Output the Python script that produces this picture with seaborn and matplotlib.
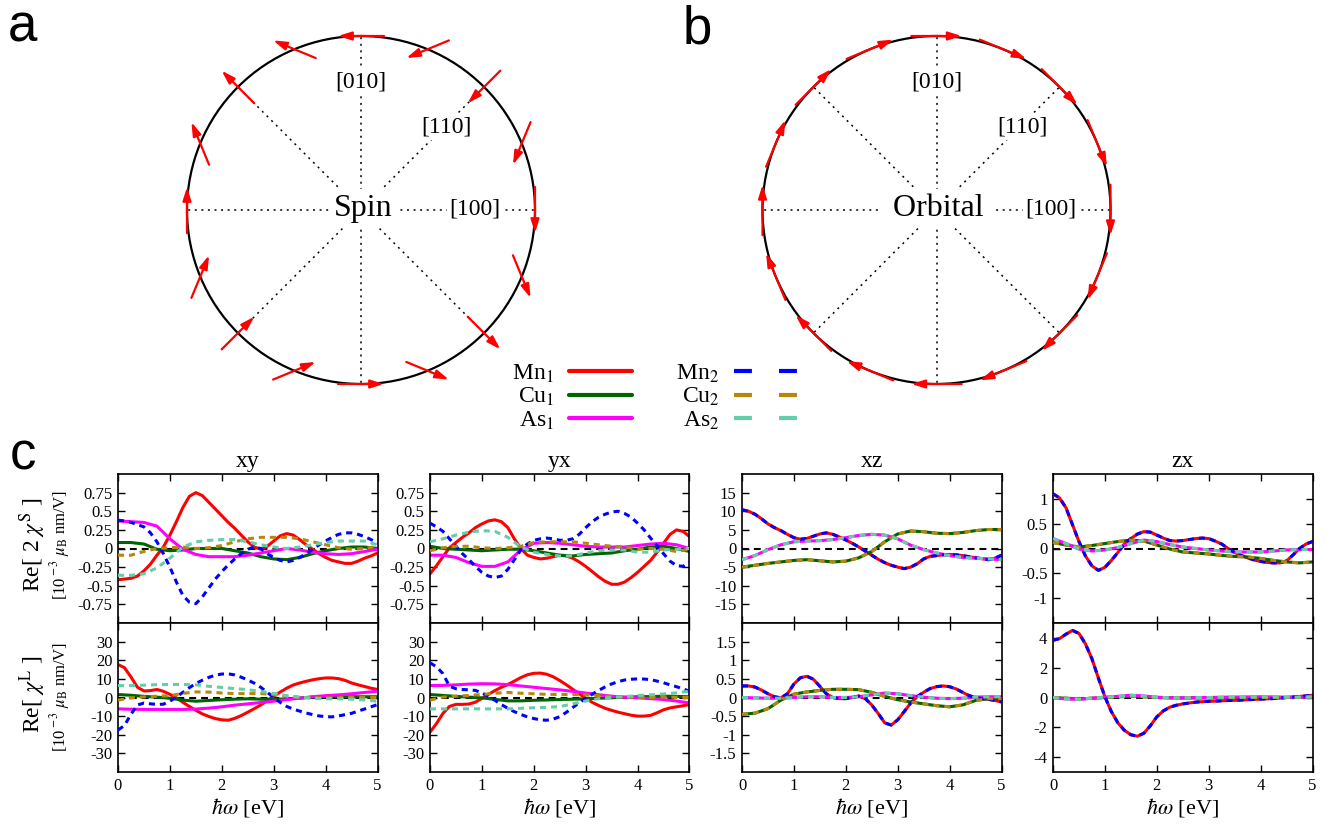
import numpy as np
import matplotlib
matplotlib.use("Agg")
import matplotlib.pyplot as plt
import seaborn as sns
from matplotlib.lines import Line2D
from matplotlib.patches import Circle
from matplotlib.ticker import FuncFormatter

# ---------------- data ----------------
E = [0.0, 0.25, 0.5, 0.75, 1.0, 1.25, 1.5, 1.75, 2.0, 2.25, 2.5,
     2.75, 3.0, 3.25, 3.5, 3.75, 4.0, 4.25, 4.5, 4.75, 5.0]
E_fine = [0.0, 0.125, 0.25, 0.375, 0.5, 0.625, 0.75, 0.875, 1.0, 1.125, 1.25,
          1.375, 1.5, 1.625, 1.75, 1.875, 2.0, 2.125, 2.25, 2.375, 2.5,
          2.625, 2.75, 2.875, 3.0, 3.125, 3.25, 3.375, 3.5, 3.625, 3.75,
          3.875, 4.0, 4.125, 4.25, 4.375, 4.5, 4.625, 4.75, 4.875, 5.0]

# xy, spin
xyS_Mn1 = [-0.42, -0.41, -0.40, -0.37, -0.3, -0.21, -0.09, 0.02, 0.18, 0.36, 0.55, 0.7, 0.75, 0.71, 0.62, 0.53,
           0.44, 0.35, 0.27, 0.18, 0.09, 0.02, -0.01, 0.03, 0.1, 0.17, 0.2, 0.18, 0.12, 0.05, -0.01, -0.07, -0.12,
           -0.16, -0.18, -0.2, -0.2, -0.17, -0.13, -0.1, -0.06]
xyS_Cu1 = [0.08, 0.08, 0.06, -0.01, -0.03, -0.02, 0.0, 0.0, 0.0, -0.03, -0.06, -0.11, -0.14, -0.15, -0.12, -0.07, -0.03, 0.0, 0.02, 0.02, 0.0]
xyS_As1 = [0.37, 0.36, 0.35, 0.3, 0.13, -0.01, -0.08, -0.11, -0.11, -0.11, -0.09, -0.06, -0.03, 0.0, -0.02, -0.05, -0.07, -0.08, -0.07, -0.04, -0.01]
xyS_Mn2 = [0.38, 0.37, 0.35, 0.32, 0.29, 0.21, 0.09, -0.07, -0.25, -0.45, -0.63, -0.72, -0.74, -0.65, -0.53, -0.41,
           -0.31, -0.22, -0.14, -0.07, -0.01, 0.02, 0.0, -0.07, -0.12, -0.16, -0.18, -0.16, -0.12, -0.07, -0.01,
           0.05, 0.1, 0.15, 0.19, 0.21, 0.21, 0.19, 0.16, 0.12, 0.07]
xyS_Cu2 = [-0.09, -0.09, -0.04, 0.0, 0.01, 0.02, 0.0, 0.01, 0.04, 0.09, 0.13, 0.15, 0.15, 0.15, 0.13, 0.09, 0.05, 0.01, -0.01, 0.0, 0.03]
xyS_As2 = [-0.36, -0.36, -0.34, -0.26, -0.13, 0.02, 0.09, 0.11, 0.12, 0.12, 0.09, 0.05, 0.02, 0.0, 0.02, 0.05, 0.08, 0.1, 0.1, 0.1, 0.05]

# xy, orbital
xyL_Mn1 = [17.7, 16, 11, 5.5, 3.5, 3.7, 4.3, 3.3, 1.7, -0.2, -2.6, -4.8, -6.9, -8.8, -10.2, -11.3, -12, -12.2,
           -11.2, -9.7, -7.9, -6, -4, -1.7, 0.7, 2.9, 5, 6.7, 7.8, 8.7, 9.5, 10.1, 10.5, 10.5, 10.1, 9.2, 7.8,
           6.8, 5.9, 5.0, 4.3]
xyL_Cu1 = [1.6, 1.2, 0.6, 0.2, -0.4, -1.4, -2.0, -1.6, -1.2, -0.9, -0.7, -0.9, -1.0, -0.7, -0.3, 0.2, 0.4, 0.4, 0.4, 0.4, 0.4]
xyL_As1 = [-6.1, -6.3, -6.4, -6.4, -6.4, -6.4, -6.2, -5.7, -5.0, -4.1, -3.4, -2.7, -2.0, -1.1, -0.4, 0.4, 1.0, 1.4, 2.0, 2.7, 3.4]
xyL_Mn2 = [-17.5, -15, -9, -4, -3.0, -3.4, -3.7, -3.6, -2, 0.3, 2.8, 5.3, 7.5, 9.3, 10.8, 12, 12.6, 12.7, 12.1,
           10.9, 9.4, 7.7, 5.5, 2.8, 0, -2.6, -4.8, -6.2, -7.3, -8.3, -9.2, -9.9, -10.3, -10.4, -9.9, -9.2, -8.5,
           -7.3, -6.2, -5.0, -3.8]
xyL_Cu2 = [-1.4, -0.2, 0.3, 0.7, 1.0, 2.2, 3.0, 2.9, 2.4, 2.1, 2.1, 2.1, 1.6, 0.6, 0.1, -0.2, -0.2, -0.1, 0.0, 0.0, 0.0]
xyL_As2 = [6.4, 6.4, 6.6, 6.9, 7.0, 7.0, 6.8, 6.0, 5.4, 4.8, 4.2, 3.3, 2.2, 1.0, 0.2, -0.4, -0.7, -0.7, -0.9, -1.3, -2.0]

# yx, spin
yxS_Mn1 = [-0.34, -0.23, -0.11, 0.01, 0.08, 0.15, 0.21, 0.28, 0.33, 0.37, 0.385, 0.36, 0.28, 0.13, 0.0, -0.09,
           -0.12, -0.14, -0.13, -0.11, -0.09, -0.1, -0.13, -0.18, -0.24, -0.31, -0.38, -0.44, -0.48, -0.48, -0.45,
           -0.39, -0.32, -0.24, -0.16, -0.05, 0.07, 0.19, 0.25, 0.23, 0.16]
yxS_Cu1 = [0.03, 0.0, -0.01, -0.02, -0.03, -0.02, -0.01, -0.01, -0.03, -0.06, -0.09, -0.1, -0.08, -0.07, -0.06, -0.03, -0.01, 0.02, 0.03, 0.0, -0.04]
yxS_As1 = [-0.09, -0.09, -0.12, -0.19, -0.24, -0.24, -0.18, -0.02, 0.07, 0.08, 0.07, 0.05, 0.03, 0.02, 0.02, 0.02, 0.04, 0.06, 0.07, 0.05, 0.0]
yxS_Mn2 = [0.34, 0.29, 0.23, 0.13, 0.03, -0.07, -0.15, -0.24, -0.32, -0.37, -0.39, -0.37, -0.28, -0.15, -0.02,
           0.06, 0.11, 0.13, 0.14, 0.13, 0.11, 0.11, 0.13, 0.19, 0.28, 0.36, 0.42, 0.46, 0.49, 0.5, 0.47, 0.42,
           0.34, 0.25, 0.14, 0.04, -0.07, -0.17, -0.23, -0.24, -0.18]
yxS_Cu2 = [-0.03, 0.01, 0.03, 0.03, 0.01, 0.0, 0.01, 0.03, 0.08, 0.09, 0.09, 0.09, 0.07, 0.05, 0.03, 0.02, -0.01, 0.0, -0.01, -0.04, -0.01]
yxS_As2 = [0.09, 0.13, 0.18, 0.22, 0.24, 0.23, 0.15, 0.02, -0.05, -0.08, -0.1, -0.1, -0.06, -0.03, -0.02, -0.02, -0.05, -0.05, -0.02, -0.01, 0.0]

# yx, orbital
yxL_Mn1 = [-18.6, -14, -8.5, -4.8, -3.7, -3.7, -3.5, -2.5, -0.5, 1.7, 3.7, 5.5, 7.0, 8.8, 10.7, 12.2, 13.0, 13.1,
           12.5, 11.1, 9.1, 6.9, 4.4, 2.0, -0.4, -2.6, -4.3, -5.8, -6.9, -7.9, -8.7, -9.5, -10.0, -10.0, -9.6,
           -8.2, -6.6, -5.6, -5.0, -4.4, -3.8]
yxL_Cu1 = [1.6, 1.1, 0.6, 0.2, -0.2, -1.0, -1.8, -1.8, -1.5, -1.3, -1.1, -0.9, -0.7, -0.4, -0.1, 0.1, 0.4, 0.5, 0.7, 0.6, 0.4]
yxL_As1 = [6.4, 6.5, 6.8, 7.2, 7.4, 7.3, 6.9, 6.2, 5.5, 4.8, 4.1, 3.3, 2.4, 1.5, 0.7, 0.2, -0.2, -0.6, -1.1, -1.9, -2.9]
yxL_Mn2 = [18.6, 16.5, 12.8, 6, 4.7, 4.3, 4.1, 3.8, 2.5, 0.6, -1.5, -3.8, -5.8, -7.6, -9.1, -10.4, -11.3, -12.0,
           -12.2, -11.6, -10.3, -8.0, -5.4, -2.8, -0.4, 1.8, 3.8, 5.7, 7.3, 8.5, 9.4, 9.8, 10.0, 9.9, 9.6, 8.8,
           7.9, 6.8, 5.8, 4.6, 3.4]
yxL_Cu2 = [-1.4, 0.2, 0.7, 1.1, 1.6, 2.3, 2.7, 2.3, 2.0, 1.7, 1.6, 1.6, 1.4, 1.0, 0.6, 0.3, 0.1, 0.0, 0.2, 0.1, 0.0]
yxL_As2 = [-6.1, -6.1, -6.1, -6.1, -6.1, -6.1, -6.1, -5.8, -5.5, -5.3, -4.9, -3.4, -1.9, -0.6, 0.0, 0.4, 1.1, 1.4, 1.9, 2.5, 3.4]

# xz (sublattice 1 and 2 coincide)
xzS_Mn = [10.4, 10.0, 9.2, 8.0, 6.6, 5.6, 4.8, 3.8, 2.9, 2.5, 2.7, 3.3, 3.9, 4.2, 3.8, 3.1, 2.3, 1.4, 0.4, -0.7,
          -1.8, -2.9, -3.8, -4.5, -5.0, -5.4, -5.0, -4.1, -2.8, -2.1, -1.9, -1.7, -1.6, -1.7, -1.9, -2.2, -2.5,
          -2.75, -3.0, -2.6, -1.8]
xzS_Cu = [-5.0, -4.5, -4.0, -3.6, -3.2, -3.0, -3.3, -3.6, -3.4, -2.5, -0.8, 1.8, 3.9, 4.7, 4.5, 4.1, 4.0, 4.3, 4.8, 5.1, 5.1]
xzS_As = [-3.0, -1.9, -0.3, 1.0, 1.8, 2.0, 2.1, 2.4, 2.9, 3.5, 3.8, 3.6, 2.6, 0.9, -0.3, -1.2, -1.9, -2.4, -2.6, -2.8, -3.0]
xzL_Mn = [0.31, 0.31, 0.28, 0.2, 0.1, 0.02, -0.01, 0.1, 0.36, 0.53, 0.57, 0.49, 0.3, 0.1, 0.0, -0.03, -0.03, 0.0,
          0.04, -0.03, -0.2, -0.43, -0.68, -0.74, -0.6, -0.38, -0.15, 0.02, 0.14, 0.24, 0.29, 0.31, 0.29, 0.23,
          0.14, 0.05, 0.0, -0.03, -0.05, -0.08, -0.12]
xzL_Cu = [-0.45, -0.42, -0.3, -0.07, 0.09, 0.15, 0.19, 0.22, 0.22, 0.21, 0.14, 0.03, -0.06, -0.12, -0.17, -0.22, -0.25, -0.2, -0.08, -0.03, -0.03]
xzL_As = [0.0, -0.01, -0.02, -0.02, 0.0, 0.02, 0.02, 0.0, 0.0, 0.02, 0.07, 0.12, 0.1, 0.05, 0.01, -0.02, -0.03, -0.02, 0.01, 0.02, 0.02]

# zx (sublattice 1 and 2 coincide)
zxS_Mn = [1.1, 1.02, 0.82, 0.48, 0.14, -0.15, -0.35, -0.44, -0.38, -0.24, -0.08, 0.09, 0.2, 0.29, 0.34, 0.33,
          0.27, 0.21, 0.16, 0.15, 0.16, 0.18, 0.2, 0.21, 0.2, 0.15, 0.09, 0.0, -0.08, -0.14, -0.19, -0.23, -0.26,
          -0.28, -0.29, -0.29, -0.25, -0.13, 0.0, 0.09, 0.14]
zxS_Cu = [0.12, 0.07, 0.03, 0.06, 0.1, 0.14, 0.17, 0.15, 0.07, -0.01, -0.07, -0.09, -0.11, -0.14, -0.16, -0.17, -0.2, -0.24, -0.27, -0.29, -0.27]
zxS_As = [0.2, 0.1, -0.01, -0.05, -0.03, 0.02, 0.1, 0.17, 0.14, 0.08, 0.03, 0.0, -0.03, -0.05, -0.07, -0.07, -0.07, -0.05, -0.03, -0.02, -0.02]
zxL_Mn = [3.84, 3.95, 4.25, 4.5, 4.3, 3.6, 2.6, 1.3, 0.05, -0.95, -1.7, -2.2, -2.5, -2.6, -2.4, -1.9, -1.3, -0.9,
          -0.65, -0.52, -0.43, -0.37, -0.31, -0.28, -0.26, -0.24, -0.22, -0.2, -0.19, -0.17, -0.15, -0.13, -0.11,
          -0.09, -0.07, -0.04, 0.0, 0.03, 0.07, 0.11, 0.15]
zxL_Cu = [0.0, -0.05, -0.1, -0.05, 0.0, 0.05, 0.08, 0.05, 0.0, -0.02, -0.03, -0.03, -0.02, -0.02, -0.01, 0.0, 0.0, 0.0, 0.0, 0.02, 0.05]
zxL_As = [0.0, -0.1, -0.12, -0.05, 0.02, 0.08, 0.15, 0.1, 0.02, -0.02, -0.03, 0.0, 0.0, 0.02, 0.03, 0.04, 0.05, 0.04, 0.02, 0.02, 0.03]

species = ["Mn$_1$", "Cu$_1$", "As$_1$", "Mn$_2$", "Cu$_2$", "As$_2$"]
colors = ["#ff0000", "#006400", "#ff00ff", "#0000ff", "#b8860b", "#66cdaa"]

panel_titles = ["xy", "yx", "xz", "zx"]
spin_rows = [
    [xyS_Mn1, xyS_Cu1, xyS_As1, xyS_Mn2, xyS_Cu2, xyS_As2],
    [yxS_Mn1, yxS_Cu1, yxS_As1, yxS_Mn2, yxS_Cu2, yxS_As2],
    [xzS_Mn, xzS_Cu, xzS_As, xzS_Mn, xzS_Cu, xzS_As],
    [zxS_Mn, zxS_Cu, zxS_As, zxS_Mn, zxS_Cu, zxS_As],
]
orb_rows = [
    [xyL_Mn1, xyL_Cu1, xyL_As1, xyL_Mn2, xyL_Cu2, xyL_As2],
    [yxL_Mn1, yxL_Cu1, yxL_As1, yxL_Mn2, yxL_Cu2, yxL_As2],
    [xzL_Mn, xzL_Cu, xzL_As, xzL_Mn, xzL_Cu, xzL_As],
    [zxL_Mn, zxL_Cu, zxL_As, zxL_Mn, zxL_Cu, zxL_As],
]
spin_ylims = [(-1, 1), (-1, 1), (-20, 20), (-1.5, 1.5)]
orb_ylims = [(-40, 40), (-40, 40), (-2, 2), (-5, 5)]
spin_yticks = [[-0.75, -0.5, -0.25, 0, 0.25, 0.5, 0.75],
               [-0.75, -0.5, -0.25, 0, 0.25, 0.5, 0.75],
               [-15, -10, -5, 0, 5, 10, 15],
               [-1, -0.5, 0, 0.5, 1]]
orb_yticks = [[-30, -20, -10, 0, 10, 20, 30],
              [-30, -20, -10, 0, 10, 20, 30],
              [-1.5, -1, -0.5, 0, 0.5, 1, 1.5],
              [-4, -2, 0, 2, 4]]
x_ticks = [0, 1, 2, 3, 4, 5]

# texture on the circles
site_deg = [0, 22.5, 45, 67.5, 90, 112.5, 135, 157.5, 180, 202.5, 225, 247.5, 270, 292.5, 315, 337.5]
spin_dir_deg = [270, 247.5, 225, 202.5, 180, 157.5, 135, 112.5, 90, 67.5, 45, 22.5, 0, 337.5, 315, 292.5]
orb_dir_deg = [270, 292.5, 315, 337.5, 0, 22.5, 45, 67.5, 90, 112.5, 135, 157.5, 180, 202.5, 225, 247.5]
ray_deg = [0, 45, 90, 135, 180, 225, 270, 315]
dir_labels = ["[010]", "[110]", "[100]"]

# ---------------- style ----------------
sns.set_theme(style="ticks")
plt.rcParams["font.family"] = ["Liberation Serif", "DejaVu Serif"]
plt.rcParams["mathtext.fontset"] = "stix"
plt.rcParams["axes.unicode_minus"] = False
plt.rcParams["text.color"] = "black"
plt.rcParams["axes.labelcolor"] = "black"
plt.rcParams["xtick.color"] = "black"
plt.rcParams["ytick.color"] = "black"

W, H = 1335, 825
fig = plt.figure(figsize=(W / 100, H / 100), dpi=100)


def fx(p):
    return p / W


def fy(p):
    return 1 - p / H


# ---------------- circle panels ----------------
R_PX = 174.0
BOX = 215.0


def circle_panel(cx, cy, center_label, dirs, arrow_len):
    ax = fig.add_axes([fx(cx - BOX), fy(cy + BOX), 2 * BOX / W, 2 * BOX / H])
    lim = BOX / R_PX
    ax.set_xlim(-lim, lim)
    ax.set_ylim(-lim, lim)
    ax.axis("off")
    ax.add_patch(Circle((0, 0), 1.0, fill=False, ec="black", lw=1.6, zorder=2))
    for a in np.deg2rad(ray_deg):
        ax.plot([0, np.cos(a)], [0, np.sin(a)], color="black", lw=1.1,
                ls=(0, (1.3, 3.0)), zorder=1)
    box = dict(boxstyle="square,pad=0.1", fc="white", ec="none")
    lab_r = [0.735, 0.686, 0.655]
    lab_a = np.deg2rad([90, 44, 0.5])
    for r, a, t in zip(lab_r, lab_a, dir_labels):
        ax.text(r * np.cos(a), r * np.sin(a), t, fontsize=17, ha="center",
                va="center", bbox=box, zorder=3, color="black")
    ax.text(0.01, 0.01, center_label, fontsize=23, ha="center", va="center", color="black",
            bbox=dict(boxstyle="square,pad=0.15", fc="white", ec="none"), zorder=3)
    for th, ph in zip(np.deg2rad(site_deg), np.deg2rad(dirs)):
        px, py = np.cos(th), np.sin(th)
        dx, dy = np.cos(ph) * arrow_len / 2, np.sin(ph) * arrow_len / 2
        ax.annotate("", xy=(px + dx, py + dy), xytext=(px - dx, py - dy),
                    arrowprops=dict(arrowstyle="-|>,head_length=0.8,head_width=0.25",
                                    color="red", lw=1.6, shrinkA=0, shrinkB=0,
                                    mutation_scale=10), zorder=4)
    return ax


circle_panel(361, 210, "Spin", spin_dir_deg, 0.265)
circle_panel(936.5, 210, " Orbital ", orb_dir_deg, 0.29)

# ---------------- response panels ----------------
lefts = [118, 430, 742, 1053]
PW = 259.5
fmt = FuncFormatter(lambda v, p: "%g" % v)


def style_axes(ax, ylim, yticks, bottom_labels):
    ax.set_xlim(0, 5)
    ax.set_ylim(*ylim)
    ax.set_xticks(x_ticks)
    ax.set_yticks(yticks)
    ax.xaxis.set_major_formatter(fmt)
    ax.yaxis.set_major_formatter(fmt)
    ax.tick_params(direction="in", length=5, width=1.0, top=True, right=True,
                   labelsize=12, pad=4, colors="black", labelbottom=bottom_labels)
    for s in ax.spines.values():
        s.set_linewidth(1.2)
        s.set_color("black")
        s.set_visible(True)
    ax.set_xlabel("")
    ax.set_ylabel("")


def draw_series(ax, rows):
    ax.axhline(0, color="black", lw=1.5, ls=(0, (3.3, 2.4)), zorder=1)
    for i, (y, c) in enumerate(zip(rows, colors)):
        dashed = i >= 3
        xs = E_fine if len(y) == len(E_fine) else E
        sns.lineplot(x=xs, y=y, ax=ax, color=c, lw=2.2, errorbar=None,
                     ls=(0, (2.0, 1.6)) if dashed else "-",
                     zorder=3 if dashed else 2)


for j in range(4):
    axs = fig.add_axes([fx(lefts[j]), fy(623), PW / W, 149 / H])
    draw_series(axs, spin_rows[j])
    style_axes(axs, spin_ylims[j], spin_yticks[j], False)
    axs.set_title(panel_titles[j], fontsize=17, pad=5, color="black")

    axl = fig.add_axes([fx(lefts[j]), fy(772), PW / W, 149 / H])
    draw_series(axl, orb_rows[j])
    style_axes(axl, orb_ylims[j], orb_yticks[j], True)
    axl.set_xlabel(r"$\hbar\omega$ [eV]", fontsize=16, labelpad=2, color="black")

# y labels
unit = r"[10$^{\rm -3}$ $\mu_{\rm B}$ nm/V]"
fig.text(fx(33), fy(545), r"Re[ 2 $\chi^{\rm S}$ ]", rotation=90, fontsize=17,
         ha="center", va="center", color="black")
fig.text(fx(60), fy(545), unit, rotation=90, fontsize=12, ha="center", va="center",
         color="black")
fig.text(fx(33), fy(694), r"Re[ $\chi^{\rm L}$ ]", rotation=90, fontsize=17,
         ha="center", va="center", color="black")
fig.text(fx(60), fy(697), unit, rotation=90, fontsize=12, ha="center", va="center",
         color="black")

# panel letters
for letter, px, py in [("a", 8, 41), ("b", 683, 43), ("c", 10, 470)]:
    fig.text(fx(px), fy(py), letter, fontsize=38, family="Liberation Sans",
             ha="left", va="baseline", color="black")

# legend
handles = []
for i, c in enumerate(colors):
    if i < 3:
        handles.append(Line2D([], [], color=c, lw=3))
    else:
        handles.append(Line2D([], [], color=c, lw=3, ls=(0, (4.3, 6.5))))
leg = fig.legend(handles, species, ncol=2, loc="center", bbox_to_anchor=(fx(655), fy(397)),
                 frameon=False, markerfirst=False, fontsize=17, handlelength=2.67,
                 handletextpad=0.64, columnspacing=1.86, labelspacing=0.05,
                 borderpad=0, borderaxespad=0)
for t in leg.get_texts():
    t.set_color("black")

fig.savefig("out.png", dpi=100)
